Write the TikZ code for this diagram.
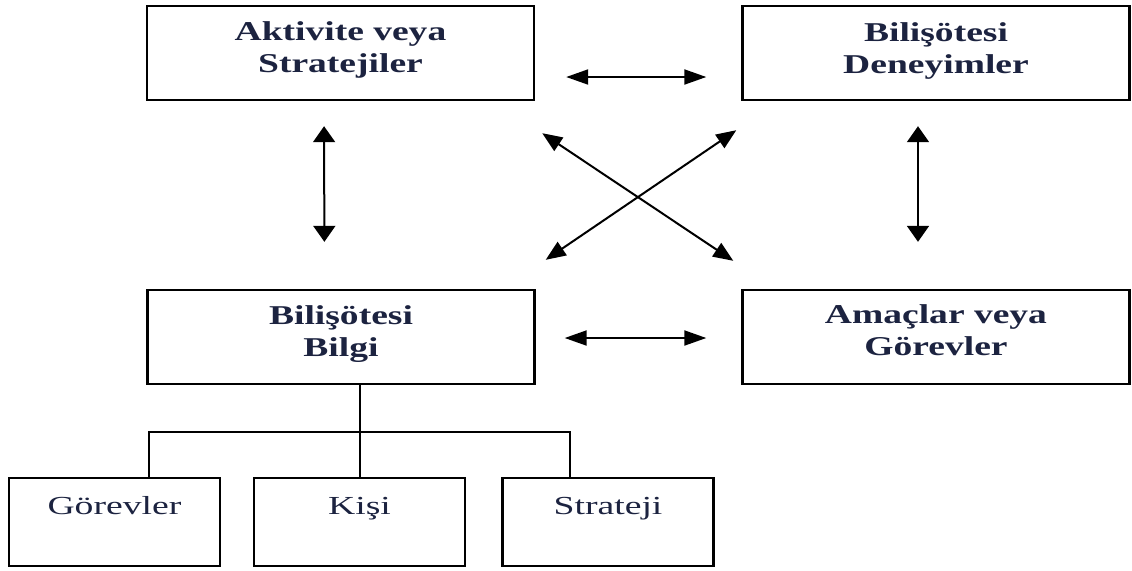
\documentclass[tikz,border=0pt]{standalone}
\usepackage{fontspec}
\setmainfont{Liberation Serif}
\newfontfamily\topfont[FakeStretch=1.38]{Liberation Serif}
\newfontfamily\botfont[FakeStretch=1.45]{Liberation Serif}
\usetikzlibrary{arrows.meta,calc}
\definecolor{ink}{HTML}{1C2340}
\tikzset{
  box/.style={draw=black, line width=1.2pt, rectangle, inner sep=0pt, minimum height=47pt},
  bigbox/.style={box, minimum width=193.5pt},
  smallbox/.style={box, minimum width=105.5pt, minimum height=44pt},
  toplbl/.style={anchor=north, align=center, inner sep=0pt, text=ink,
     font=\topfont\bfseries\fontsize{13.6}{16}\selectfont},
  botlbl/.style={anchor=base, inner sep=0pt, text=ink,
     font=\botfont\fontsize{13}{15}\selectfont},
  harr/.style={line width=1pt, {Triangle[length=11pt,width=7.5pt]}-{Triangle[length=11pt,width=7.5pt]}},
  varr/.style={line width=1pt, {Triangle[length=8pt,width=11pt]}-{Triangle[length=8pt,width=11pt]}},
  darr/.style={line width=1pt, {Triangle[length=10pt,width=8pt]}-{Triangle[length=10pt,width=8pt]}},
  tree/.style={line width=1pt}
}
\begin{document}
\begin{tikzpicture}[x=0.5pt,y=-0.5pt]
\useasboundingbox (0,0) rectangle (1132,570);
% main boxes
\node[bigbox] (al) at (340.5,53) {};
\node[bigbox] (bd) at (936,53) {};
\node[bigbox] (bb) at (341,337) {};
\node[bigbox] (am) at (936,337) {};
% bottom boxes
\node[smallbox] (gor) at (114.5,522) {};
\node[smallbox] (kisi) at (359.5,522) {};
\node[smallbox] (str) at (608,522) {};
% labels
\node[toplbl] (alt) at (340.5,21) {Aktivite veya\\Stratejiler};
\node[toplbl] (bdt) at (936,22) {Bilişötesi\\Deneyimler};
\node[toplbl] (bbt) at (341,305) {Bilişötesi\\Bilgi};
\node[toplbl] (amt) at (936,304) {Amaçlar veya\\Görevler};
\node[botlbl] (gort) at (114.5,514) {Görevler};
\node[botlbl] (kisit) at (359.5,514) {Kişi};
\node[botlbl] (strt) at (608,514) {Strateji};
% horizontal arrows
\draw[harr, shorten <=15.5pt, shorten >=17.5pt] ([yshift=-12pt]al.east) -- ([yshift=-12pt]bd.west);
\draw[harr, shorten <=14.5pt, shorten >=17.5pt] ([yshift=-0.5pt]bb.east) -- ([yshift=-0.5pt]am.west);
% vertical arrows
\draw[varr, shorten <=12.5pt, shorten >=23.5pt] ([xshift=-8.25pt]al.south) -- ([xshift=-8.25pt]bb.north);
\draw[varr, shorten <=12.5pt, shorten >=23.5pt] ([xshift=-9pt]bd.south) -- ([xshift=-9pt]am.north);
% diagonal arrows
\draw[darr] ($(al.south east)+(7,32)$) -- ($(am.north west)+(-8,-28)$);
\draw[darr] ($(bd.south west)+(-5,29)$) -- ($(bb.north east)+(10,-29)$);
% tree
\draw[tree] (kisi.north) -- (kisi.north |- bb.south);
\draw[tree] ([xshift=17.25pt]gor.north) -- ++(0,-45) -| ([xshift=-19pt]str.north);
\end{tikzpicture}
\end{document}
